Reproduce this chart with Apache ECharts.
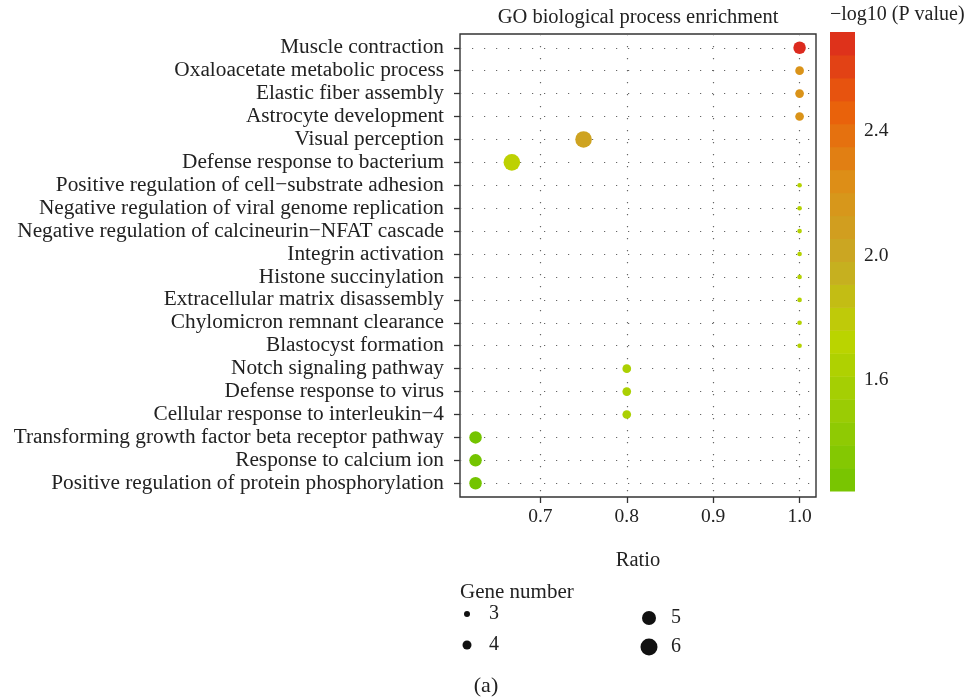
<!DOCTYPE html>
<html><head><meta charset="utf-8">
<script src="https://cdn.jsdelivr.net/npm/echarts@6/dist/echarts.min.js"></script>
<style>html,body{margin:0;padding:0;background:#fff}#c{width:972px;height:699px}</style>
</head><body><div id="c"></div>
<script>
const terms = [
  'Muscle contraction','Oxaloacetate metabolic process','Elastic fiber assembly','Astrocyte development',
  'Visual perception','Defense response to bacterium','Positive regulation of cell\u2212substrate adhesion',
  'Negative regulation of viral genome replication','Negative regulation of calcineurin\u2212NFAT cascade',
  'Integrin activation','Histone succinylation','Extracellular matrix disassembly','Chylomicron remnant clearance',
  'Blastocyst formation','Notch signaling pathway','Defense response to virus','Cellular response to interleukin\u22124',
  'Transforming growth factor beta receptor pathway','Response to calcium ion','Positive regulation of protein phosphorylation'
];
const ratio = [1.0,1.0,1.0,1.0,0.75,0.667,1.0,1.0,1.0,1.0,1.0,1.0,1.0,1.0,0.8,0.8,0.8,0.625,0.625,0.625];
const geneNumber = [5,4,4,4,6,6,3,3,3,3,3,3,3,3,4,4,4,5,5,5];
const negLog10P = [2.716,2.20,2.20,2.20,2.05,1.75,1.68,1.68,1.68,1.68,1.68,1.68,1.68,1.68,1.62,1.62,1.62,1.245,1.245,1.245];
const xTicks = [0.7,0.8,0.9,1.0];
const colorTicks = [1.6,2.0,2.4];
const sizeBreaks = [3,4,5,6];

const FONT = 'Liberation Serif';
const sizeScale = {3:4.6, 4:8.7, 5:12.5, 6:16.6};
const legendSize = {3:6, 4:9, 5:14, 6:17};
const colorMin = Math.min(...negLog10P), colorMax = Math.max(...negLog10P);
const nbin = 20;
const bins = [];
for (let i = 0; i < nbin; i++) {
  const lo = colorMin + (colorMax - colorMin) * i / nbin;
  const hi = colorMin + (colorMax - colorMin) * (i + 1) / nbin;
  bins.push([lo, hi, (lo + hi) / 2]);
}
const pts = terms.map((t, i) => [ratio[i], i + 1, negLog10P[i], geneNumber[i]]);
const rowVals = terms.map((t, i) => i + 1);

const chart = echarts.init(document.getElementById('c'), null, {renderer: 'canvas'});
const dotted = {color: '#666', width: 1.2, type: [1.2, 10.8]};
const legendGraphics = [];
legendGraphics.push({type:'text', x: 460, y: 592, style:{text:'Gene number', font:'21px "'+FONT+'"', fill:'#222', verticalAlign:'middle'}});
const legPos = [[467,614],[467,645],[649,618],[649,647]];
sizeBreaks.forEach((g, k) => {
  const [cx, cy] = legPos[k];
  legendGraphics.push({type:'circle', shape:{cx:cx, cy:cy, r:legendSize[g]/2}, style:{fill:'#111'}});
  legendGraphics.push({type:'text', x: cx + 22, y: cy, style:{text:String(g), font:'20px "'+FONT+'"', fill:'#222', verticalAlign:'middle'}});
});
chart.setOption({
  animation: false,
  backgroundColor: '#fff',
  grid: [
    {left: 460, width: 356, top: 34, height: 463, show: true, borderColor: '#333', borderWidth: 1.4, backgroundColor: 'transparent'},
    {left: 830, width: 25, top: 32, height: 459}
  ],
  xAxis: [
    {type:'value', gridIndex:0, min:0.607, max:1.019,
     axisLine:{show:false},
     axisTick:{show:true, length:6, lineStyle:{color:'#333', width:1.3}, customValues: xTicks},
     axisLabel:{margin:10, fontFamily:FONT, fontSize:19.5, color:'#222', customValues: xTicks, formatter: v => v.toFixed(1)},
     splitLine:{show:true, lineStyle: dotted},
     name:'Ratio', nameLocation:'middle', nameGap:53, nameTextStyle:{fontFamily:FONT, fontSize:20.5, color:'#222'}},
    {type:'value', gridIndex:1, min:0, max:1, show:false}
  ],
  yAxis: [
    {type:'value', gridIndex:0, min:0.4, max:20.6, inverse:true,
     axisLine:{show:false},
     axisTick:{show:true, length:6, lineStyle:{color:'#333', width:1.3}, customValues: rowVals},
     axisLabel:{margin:16, fontFamily:FONT, fontSize:21.3, color:'#222', customValues: rowVals, formatter: v => terms[Math.round(v) - 1] || ''},
     splitLine:{show:true, lineStyle: dotted}},
    {type:'value', gridIndex:1, min:colorMin, max:colorMax, position:'right',
     axisLine:{show:false},
     axisTick:{show:true, inside:true, length:6, lineStyle:{color:'#fff', width:1}, customValues: colorTicks},
     axisLabel:{margin:9, fontFamily:FONT, fontSize:19.5, color:'#222', customValues: colorTicks, formatter: v => v.toFixed(1)},
     splitLine:{show:false}},
    {type:'value', gridIndex:1, min:colorMin, max:colorMax, position:'left',
     axisLine:{show:false},
     axisTick:{show:true, inside:true, length:6, lineStyle:{color:'#fff', width:1}, customValues: colorTicks},
     axisLabel:{show:false}, splitLine:{show:false}}
  ],
  visualMap: [{
    type:'continuous', show:false, min:colorMin, max:colorMax, dimension:2, seriesIndex:[0,1],
    inRange:{color:['#74c400','#98cc04','#bcd400','#c8aa24','#dc9018','#ea600a','#dc2a1e']}
  }],
  series: [
    {type:'scatter', xAxisIndex:0, yAxisIndex:0, data: pts, z: 3,
     symbolSize: v => sizeScale[v[3]], itemStyle:{opacity:1}},
    {type:'custom', xAxisIndex:1, yAxisIndex:1, data: bins, z: 1,
     encode:{y:[0,1]},
     renderItem: (params, api) => {
       const top = api.coord([0, api.value(1)]);
       const bot = api.coord([1, api.value(0)]);
       return {type:'rect', shape:{x:top[0], y:top[1], width:bot[0]-top[0], height:bot[1]-top[1]+0.5}, style:{fill: api.visual('color')}};
     }}
  ],
  graphic: [
    {type:'text', x: 638, y: 18, style:{text:'GO biological process enrichment', font:'20.5px "'+FONT+'"', fill:'#222', align:'center', verticalAlign:'middle'}},
    {type:'text', x: 830, y: 15, style:{text:'\u2212log10 (P value)', font:'20px "'+FONT+'"', fill:'#222', align:'left', verticalAlign:'middle'}},
    {type:'text', x: 486, y: 686, style:{text:'(a)', font:'22px "'+FONT+'"', fill:'#222', align:'center', verticalAlign:'middle'}},
    ...legendGraphics
  ]
});
</script></body></html>
